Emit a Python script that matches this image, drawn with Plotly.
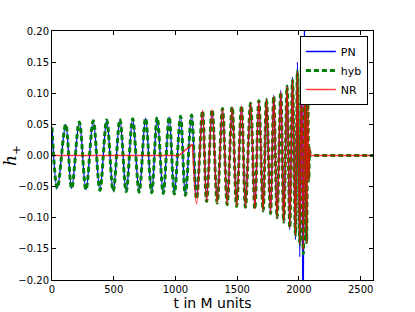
import plotly.graph_objects as go

# Extrema (time in M units, strain h+)
PN_T = [0, 43, 111, 159, 221, 275, 334, 388, 443, 496, 550, 601, 653, 706, 758, 807, 852,
        901, 949, 991, 1041, 1080, 1130, 1171, 1219, 1252, 1297, 1338, 1381, 1419, 1459,
        1495, 1535, 1567, 1608, 1643, 1675, 1710, 1737, 1770, 1796, 1823, 1853, 1877,
        1904, 1926, 1948, 1972, 1988, 2007, 2021, 2034, 2047]
PN_H = [0.045, -0.0525, 0.050, -0.053, 0.054, -0.055, 0.056, -0.056, 0.057, -0.057, 0.058,
        -0.058, 0.059, -0.059, 0.060, -0.060, 0.061, -0.061, 0.062, -0.062, 0.063, -0.064,
        0.065, -0.066, 0.067, -0.069, 0.070, -0.071, 0.073, -0.074, 0.076, -0.077, 0.079,
        -0.080, 0.083, -0.084, 0.087, -0.088, 0.091, -0.093, 0.097, -0.100, 0.105, -0.108,
        0.114, -0.119, 0.126, -0.135, 0.150, -0.163, 0.184, -0.30, 0.30]

NR_T = [0, 1027, 1138, 1171, 1219, 1252, 1297, 1338, 1381, 1419, 1459, 1495, 1535, 1567,
        1608, 1643, 1675, 1710, 1737, 1770, 1796, 1823, 1853, 1877, 1904, 1926, 1948,
        1972, 1988, 2007, 2021, 2036, 2050, 2062, 2072, 2080, 2087, 2095, 2105, 2600]
NR_H = [0.0, 0.0, 0.018, -0.078, 0.073, -0.074, 0.074, -0.0765, 0.0755, -0.079, 0.078,
        -0.082, 0.080, -0.083, 0.084, -0.086, 0.088, -0.089, 0.090, -0.093, 0.095, -0.100,
        0.102, -0.107, 0.111, -0.116, 0.121, -0.128, 0.135, -0.142, 0.148, -0.152, 0.158,
        -0.14, 0.09, -0.04, 0.012, 0.0, 0.0, 0.0]

HYB_T = [0, 43, 111, 159, 221, 275, 334, 388, 443, 496, 550, 601, 653, 706, 758, 807, 852,
         901, 949, 991, 1041, 1080, 1130, 1171, 1219, 1252, 1297, 1338, 1381, 1419, 1459,
         1495, 1535, 1567, 1608, 1643, 1675, 1710, 1737, 1770, 1796, 1823, 1853, 1877,
         1904, 1926, 1948, 1972, 1988, 2007, 2021, 2036, 2050, 2062, 2072, 2080, 2087,
         2095, 2105, 2600]
HYB_H = [0.045, -0.0525, 0.050, -0.053, 0.054, -0.055, 0.056, -0.056, 0.057, -0.057, 0.058,
         -0.058, 0.059, -0.059, 0.060, -0.060, 0.061, -0.061, 0.062, -0.062, 0.063, -0.064,
         0.065, -0.070, 0.072, -0.074, 0.074, -0.0765, 0.0755, -0.079, 0.078, -0.082, 0.080,
         -0.083, 0.084, -0.086, 0.088, -0.089, 0.090, -0.093, 0.095, -0.100, 0.102, -0.107,
         0.111, -0.116, 0.121, -0.128, 0.135, -0.142, 0.150, -0.158, 0.161, -0.14, 0.09,
         -0.04, 0.012, 0.0, 0.0, 0.0]

X_TICKS = [0, 500, 1000, 1500, 2000, 2500]
Y_TICKS = [-0.20, -0.15, -0.10, -0.05, 0.00, 0.05, 0.10, 0.15, 0.20]

NR_RAMP_END = 3  # first points of NR (flat zero + ramp) are straight segments

fig = go.Figure()
fig.add_trace(go.Scatter(x=PN_T, y=PN_H, mode="lines", name="PN",
                         line=dict(color="#0000ff", width=1.3, shape="spline", smoothing=1)))
fig.add_trace(go.Scatter(x=HYB_T, y=HYB_H, mode="lines", name="hyb",
                         line=dict(color="#008000", width=3, dash="5px,3px",
                                   shape="spline", smoothing=1)))
fig.add_trace(go.Scatter(x=NR_T[:NR_RAMP_END], y=NR_H[:NR_RAMP_END], mode="lines",
                         name="NR", legendgroup="NR", showlegend=False, opacity=0.75,
                         line=dict(color="#ff0000", width=1.5)))
fig.add_trace(go.Scatter(x=NR_T[NR_RAMP_END - 1:], y=NR_H[NR_RAMP_END - 1:], mode="lines",
                         name="NR", legendgroup="NR", opacity=0.75,
                         line=dict(color="#ff0000", width=1.5, shape="spline", smoothing=1)))

axis_common = dict(showline=True, linecolor="black", linewidth=1, mirror="allticks",
                   ticks="inside", ticklen=4, tickcolor="black", showgrid=False,
                   zeroline=False, automargin=False,
                   tickfont=dict(family="DejaVu Sans", size=10, color="black"))

fig.update_xaxes(range=[0, 2600], tickvals=X_TICKS, ticktext=[str(v) for v in X_TICKS],
                 title=dict(text="t in M units", font=dict(family="DejaVu Sans", size=14,
                                                             color="black"), standoff=4),
                 **axis_common)
fig.update_yaxes(range=[-0.2, 0.2], tickvals=Y_TICKS, tickformat=".2f",
                 title=dict(text="<i>h</i><sub>+</sub>", font=dict(family="DejaVu Serif",
                                                                    size=17, color="black"),
                            standoff=1),
                 **axis_common)

fig.update_layout(
    width=415, height=312,
    margin=dict(l=52, r=42, t=31, b=32),
    plot_bgcolor="white", paper_bgcolor="white",
    font=dict(family="DejaVu Sans", size=10, color="black"),
    legend=dict(x=0.984, y=0.98, xanchor="right", yanchor="top",
                bordercolor="black", borderwidth=1, bgcolor="white",
                font=dict(family="DejaVu Sans", size=11, color="black"),
                itemwidth=30, tracegroupgap=0),
    showlegend=True,
)

fig.write_html("out.html", config={"displayModeBar": False},
               post_script="document.body.style.margin='0';")
